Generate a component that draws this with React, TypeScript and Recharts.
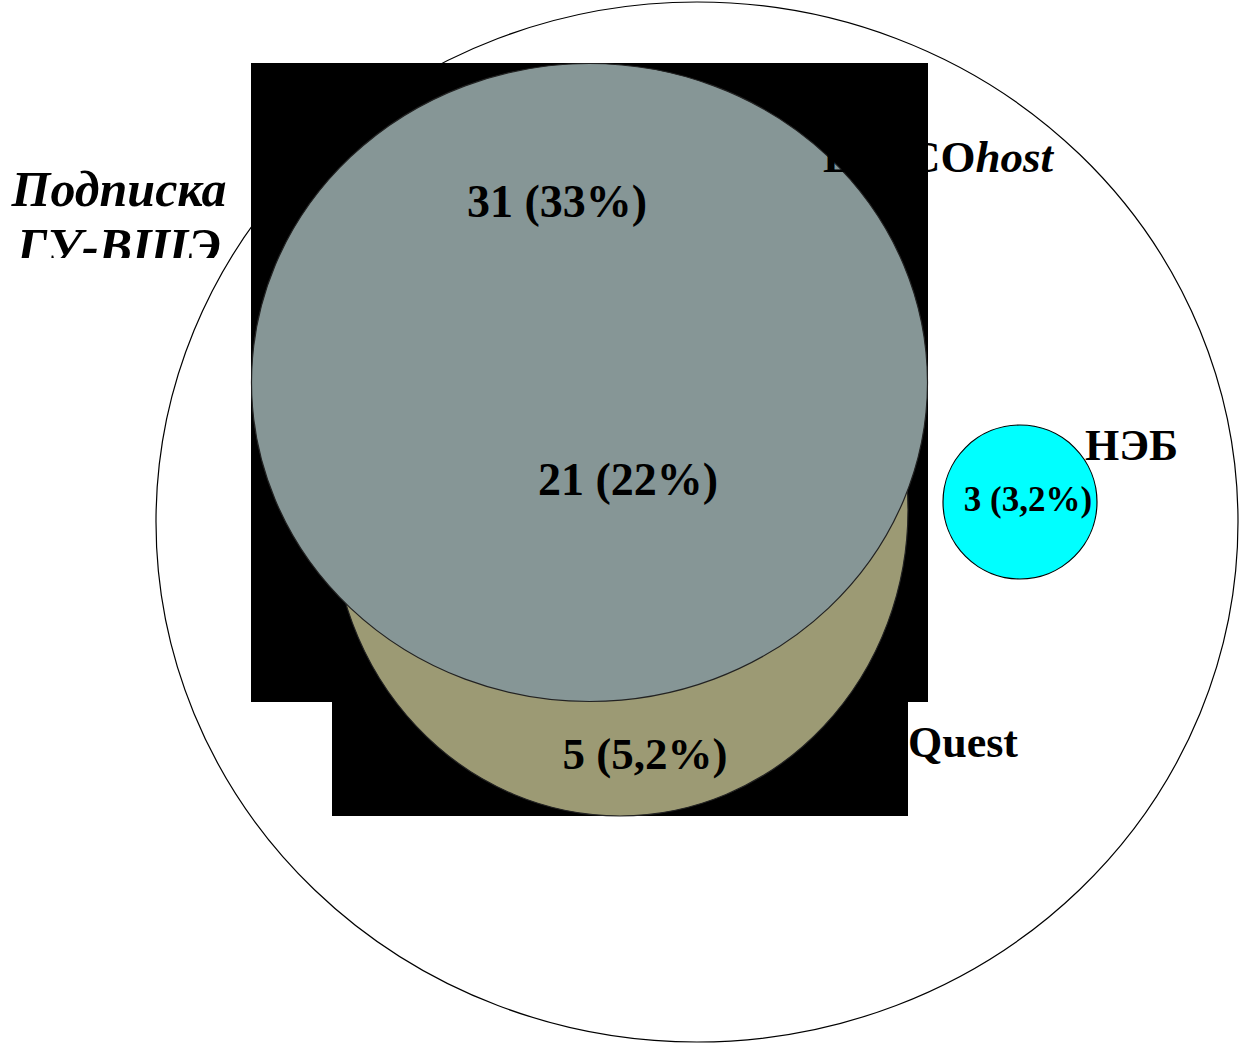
import React from "react"
import { ScatterChart, Scatter, XAxis, YAxis } from "recharts"

// sets and the region counts shown in the diagram
const setNames = ["Подписка ГУ-ВШЭ", "EBSCOhost", "ProQuest", "НЭБ"]
const regionCounts = [31, 21, 5, 3]
const regionShares = ["33%", "22%", "5,2%", "3,2%"]

// layout of the drawing, in chart units (1 unit = 1 px)
const W = 1239
const H = 1044

const layers = [
  { kind: "ellipse", x: 697, y: 522, rx: 541, ry: 520, fill: "#ffffff", stroke: "#000000" },
  { kind: "box", x: 589.5, y: 382.5, rx: 338.5, ry: 319.5, fill: "#000000", stroke: "none" },
  { kind: "box", x: 620, y: 759, rx: 288, ry: 57, fill: "#000000", stroke: "none" },
  { kind: "ellipse", x: 620, y: 510, rx: 288, ry: 306, fill: "#9c9a74", stroke: "#222222" },
  { kind: "ellipse", x: 589.5, y: 382.5, rx: 338, ry: 319, fill: "#869696", stroke: "#222222" },
  { kind: "ellipse", x: 1020, y: 502, rx: 77, ry: 77, fill: "#00ffff", stroke: "#000000" },
]

const setLabelPos = [
  { x: 119, y: 206, size: 50, anchor: "middle" },
  { x: 1053, y: 172, size: 45, anchor: "end" },
  { x: 1018, y: 757, size: 44, anchor: "end" },
  { x: 1085, y: 460, size: 44, anchor: "start" },
]

const regionLabelPos = [
  { x: 557, y: 217, size: 46 },
  { x: 628, y: 495, size: 46 },
  { x: 645, y: 769, size: 45 },
  { x: 1028, y: 511, size: 35 },
]

const FONT = "'Liberation Serif', 'Times New Roman', serif"

const shapeData = layers.map((l) => ({ ...l }))

const setLabelData = setNames.map((name, i) => ({ name, ...setLabelPos[i] }))

const regionLabelData = regionCounts.map((c, i) => ({
  text: `${c} (${regionShares[i]})`,
  ...regionLabelPos[i],
}))

function LayerShape(props: any) {
  const { cx, cy, payload } = props
  if (payload.kind === "box") {
    return (
      <rect
        x={cx - payload.rx}
        y={cy - payload.ry}
        width={payload.rx * 2}
        height={payload.ry * 2}
        fill={payload.fill}
      />
    )
  }
  return (
    <ellipse
      cx={cx}
      cy={cy}
      rx={payload.rx}
      ry={payload.ry}
      fill={payload.fill}
      stroke={payload.stroke}
      strokeWidth={1.2}
    />
  )
}

function SetLabel(props: any) {
  const { cx, cy, payload } = props
  const common = {
    fontFamily: FONT,
    fontSize: payload.size,
    fontWeight: 700,
    fill: "#000000",
    textAnchor: payload.anchor,
  }
  if (payload.name === "Подписка ГУ-ВШЭ") {
    const [a, b] = payload.name.split(" ")
    return (
      <g>
        <defs>
          <clipPath id="cut-line">
            <rect x={0} y={cy + 14} width={240} height={38} />
          </clipPath>
        </defs>
        <text x={cx} y={cy} fontStyle="italic" {...common}>
          {a}
        </text>
        <text x={cx} y={cy + 57} fontStyle="italic" clipPath="url(#cut-line)" {...common}>
          {b}
        </text>
      </g>
    )
  }
  if (payload.name === "EBSCOhost") {
    return (
      <text x={cx} y={cy} {...common}>
        EBSCO<tspan fontStyle="italic">host</tspan>
      </text>
    )
  }
  return (
    <text x={cx} y={cy} {...common}>
      {payload.name}
    </text>
  )
}

function RegionLabel(props: any) {
  const { cx, cy, payload } = props
  return (
    <text
      x={cx}
      y={cy}
      textAnchor="middle"
      fontFamily={FONT}
      fontSize={payload.size}
      fontWeight={700}
      fill="#000000"
    >
      {payload.text}
    </text>
  )
}

export default function App() {
  return (
    <div style={{ position: "absolute", left: 0, top: 0, background: "#ffffff" }}>
      <ScatterChart width={W} height={H} margin={{ top: 0, right: 0, bottom: 0, left: 0 }}>
        <XAxis type="number" dataKey="x" domain={[0, W]} hide allowDataOverflow />
        <YAxis type="number" dataKey="y" domain={[0, H]} reversed hide allowDataOverflow />
        <Scatter data={shapeData} shape={LayerShape} isAnimationActive={false} />
        <Scatter data={regionLabelData} shape={RegionLabel} isAnimationActive={false} />
        <Scatter data={setLabelData} shape={SetLabel} isAnimationActive={false} />
      </ScatterChart>
    </div>
  )
}
